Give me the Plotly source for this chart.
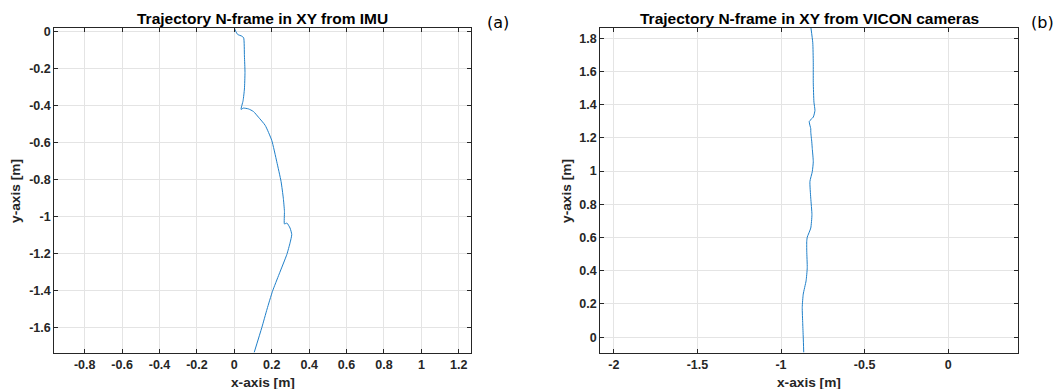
import plotly.graph_objects as go

W, H = 1058, 389

# IMU trajectory (left panel), metres
imu_x = [0.000, 0.007, 0.018, 0.040, 0.050, 0.054, 0.057, 0.054, 0.047, 0.036, 0.048, 0.075, 0.102,
         0.129, 0.165, 0.200, 0.227, 0.250, 0.262, 0.268, 0.268, 0.281, 0.298, 0.307, 0.298, 0.281,
         0.240, 0.204, 0.175, 0.147, 0.106]
imu_y = [0.020, 0.002, -0.016, -0.025, -0.034, -0.132, -0.221, -0.311, -0.373, -0.421, -0.414, -0.418, -0.432,
         -0.463, -0.507, -0.588, -0.704, -0.811, -0.901, -0.972, -1.040, -1.035, -1.062, -1.097, -1.142, -1.204,
         -1.310, -1.404, -1.500, -1.600, -1.735]

# VICON trajectory (right panel), metres, bottom -> top
vic_x = [-0.864, -0.867, -0.870, -0.873, -0.867, -0.850, -0.843, -0.846, -0.846, -0.843, -0.822, -0.815,
         -0.822, -0.827, -0.813, -0.807, -0.813, -0.816, -0.822, -0.822, -0.831, -0.807, -0.797, -0.803,
         -0.807, -0.807, -0.810, -0.821]
vic_y = [-0.093, 0.000, 0.080, 0.179, 0.259, 0.339, 0.418, 0.518, 0.578, 0.602, 0.657, 0.738,
         0.837, 0.937, 0.996, 1.056, 1.136, 1.176, 1.236, 1.255, 1.299, 1.325, 1.365, 1.415,
         1.534, 1.654, 1.773, 1.863]

imu_xticks = [-0.8, -0.6, -0.4, -0.2, 0, 0.2, 0.4, 0.6, 0.8, 1, 1.2]
imu_yticks = [0, -0.2, -0.4, -0.6, -0.8, -1, -1.2, -1.4, -1.6]
vic_xticks = [-2, -1.5, -1, -0.5, 0]
vic_yticks = [0, 0.2, 0.4, 0.6, 0.8, 1, 1.2, 1.4, 1.6, 1.8]

FONT = "Liberation Sans, Arial, Helvetica"
LINE = dict(color="#1f7fc8", width=1.0, shape="spline", smoothing=0.5)

fig = go.Figure()
fig.add_trace(go.Scatter(x=imu_x, y=imu_y, mode="lines", line=LINE,
                         xaxis="x", yaxis="y", showlegend=False))
fig.add_trace(go.Scatter(x=vic_x, y=vic_y, mode="lines", line=LINE,
                         xaxis="x2", yaxis="y2", showlegend=False))

tickfont = dict(family=FONT, size=12.5, color="#262626")
common = dict(showgrid=True, gridcolor="#e4e4e4", gridwidth=1, zeroline=False,
              showline=True, linecolor="#262626", linewidth=1, mirror="allticks",
              ticks="inside", ticklen=4, tickcolor="#262626", tickfont=tickfont)

def lab(v):
    return "<b>%g</b>" % v

y0, y1 = (H - 352.3) / H, (H - 25) / H
fig.update_layout(
    width=W, height=H, margin=dict(l=0, r=0, t=0, b=0),
    paper_bgcolor="white", plot_bgcolor="white",
    xaxis=dict(domain=[54.2 / W, 471.3 / W], range=[-0.963, 1.267], tickvals=imu_xticks,
               ticktext=[lab(v) for v in imu_xticks], anchor="y", **common),
    yaxis=dict(domain=[y0, y1], range=[-1.735, 0.020], tickvals=imu_yticks,
               ticktext=[lab(v) for v in imu_yticks], anchor="x", **common),
    xaxis2=dict(domain=[600.1 / W, 1018 / W], range=[-2.082, 0.4175], tickvals=vic_xticks,
                ticktext=[lab(v) for v in vic_xticks], anchor="y2", **common),
    yaxis2=dict(domain=[y0, y1], range=[-0.093, 1.863], tickvals=vic_yticks,
                ticktext=[lab(v) for v in vic_yticks], anchor="x2", **common),
)

def ann(text, px, py, size, bold=True, angle=0, color="#000000", family=FONT):
    fig.add_annotation(text=("<b>%s</b>" % text) if bold else text, xref="paper", yref="paper",
                       x=px / W, y=1 - py / H, xanchor="center", yanchor="middle", showarrow=False,
                       textangle=angle, font=dict(family=family, size=size, color=color))

ann("Trajectory N-frame in XY from IMU", 262.7, 15.2, 15.5)
ann("Trajectory N-frame in XY from VICON cameras", 809, 15.2, 15.5)
ann("x-axis [m]", 262.7, 382, 13.7, color="#262626")
ann("x-axis [m]", 809, 382, 13.7, color="#262626")
ann("y-axis [m]", 16, 189.4, 13.7, angle=-90, color="#262626")
ann("y-axis [m]", 567, 189.4, 13.7, angle=-90, color="#262626")
ann("(a)", 497.7, 19.3, 16, bold=False, family="DejaVu Sans")
ann("(b)", 1042.7, 19.3, 16, bold=False, family="DejaVu Sans")

fig.write_html("out.html")
